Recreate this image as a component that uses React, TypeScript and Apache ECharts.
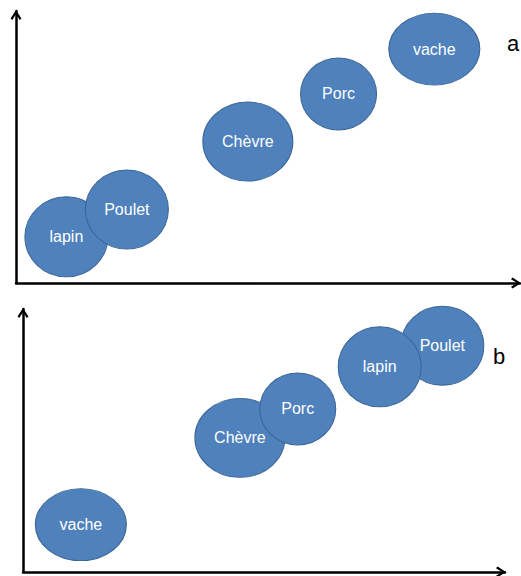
import React, { useEffect, useRef } from "react";
import * as echarts from "echarts";

// Panel a
const namesA = ["lapin", "Poulet", "Chèvre", "Porc", "vache"];
const xA = [10, 22, 46, 64, 83];
const yA = [17, 27, 52, 69.5, 86];

// Panel b (drawing order: later items are drawn on top)
const namesB = ["vache", "Chèvre", "Porc", "Poulet", "lapin"];
const xB = [12, 45, 57, 87, 74];
const yB = [18, 51, 62, 86, 78];

const panelLabels = ["a", "b"];

// Bubble sizes (style, per animal)
const SIZE: Record<string, number[]> = {
  lapin: [83, 80],
  Poulet: [83, 79],
  "Chèvre": [90, 79],
  Porc: [76, 72],
  vache: [91, 72],
};

const ELLIPSE = "path://M0,50 A50,50 0 1,1 100,50 A50,50 0 1,1 0,50 Z";
const CHEVRON = "path://M50,0 L100,78 L84,92 L50,36 L16,92 L0,78 Z";

function axisPair(gridIndex: number) {
  const line = {
    show: true,
    symbol: ["none", CHEVRON],
    symbolSize: [13, 10],
    symbolOffset: [0, -4],
    lineStyle: { color: "#000", width: 2.5 },
  };
  const common = {
    type: "value" as const,
    gridIndex,
    min: 0,
    max: 100,
    axisLine: line,
    axisTick: { show: false },
    axisLabel: { show: false },
    splitLine: { show: false },
  };
  return { x: { ...common }, y: { ...common } };
}

function seriesFor(names: string[], xs: number[], ys: number[], idx: number) {
  return {
    type: "scatter",
    xAxisIndex: idx,
    yAxisIndex: idx,
    symbol: ELLIPSE,
    symbolKeepAspect: false,
    symbolSize: (_v: any, p: any) => SIZE[p.name] || [80, 76],
    itemStyle: { color: "#4F81BD", borderColor: "#3A6494", borderWidth: 1, opacity: 1 },
    label: {
      show: true,
      position: "inside",
      formatter: "{b}",
      color: "#fff",
      fontSize: 16,
      fontFamily: "Liberation Sans",
    },
    emphasis: { disabled: true },
    silent: true,
    data: names.map((n, i) => ({ name: n, value: [xs[i], ys[i]] })),
  };
}

export default function App() {
  const ref = useRef<HTMLDivElement>(null);
  useEffect(() => {
    if (!ref.current) return;
    const chart = echarts.init(ref.current, null, { renderer: "svg" });
    const a = axisPair(0);
    const b = axisPair(1);
    chart.setOption({
      animation: false,
      backgroundColor: "#fff",
      grid: [
        { left: 16, right: 1, top: 11, bottom: 293 },
        { left: 23, right: 16, top: 309, bottom: 4 },
      ],
      xAxis: [a.x, b.x],
      yAxis: [a.y, b.y],
      series: [seriesFor(namesA, xA, yA, 0), seriesFor(namesB, xB, yB, 1)],
      graphic: [
        {
          type: "text",
          x: 513,
          y: 43,
          style: {
            text: panelLabels[0],
            fill: "#000",
            fontSize: 22,
            fontFamily: "Liberation Sans",
            align: "center",
            verticalAlign: "middle",
          },
        },
        {
          type: "text",
          x: 499,
          y: 356,
          style: {
            text: panelLabels[1],
            fill: "#000",
            fontSize: 22,
            fontFamily: "Liberation Sans",
            align: "center",
            verticalAlign: "middle",
          },
        },
      ],
    });
    return () => chart.dispose();
  }, []);
  return (
    <div
      ref={ref}
      style={{ position: "absolute", left: 0, top: 0, width: 521, height: 576 }}
    />
  );
}
